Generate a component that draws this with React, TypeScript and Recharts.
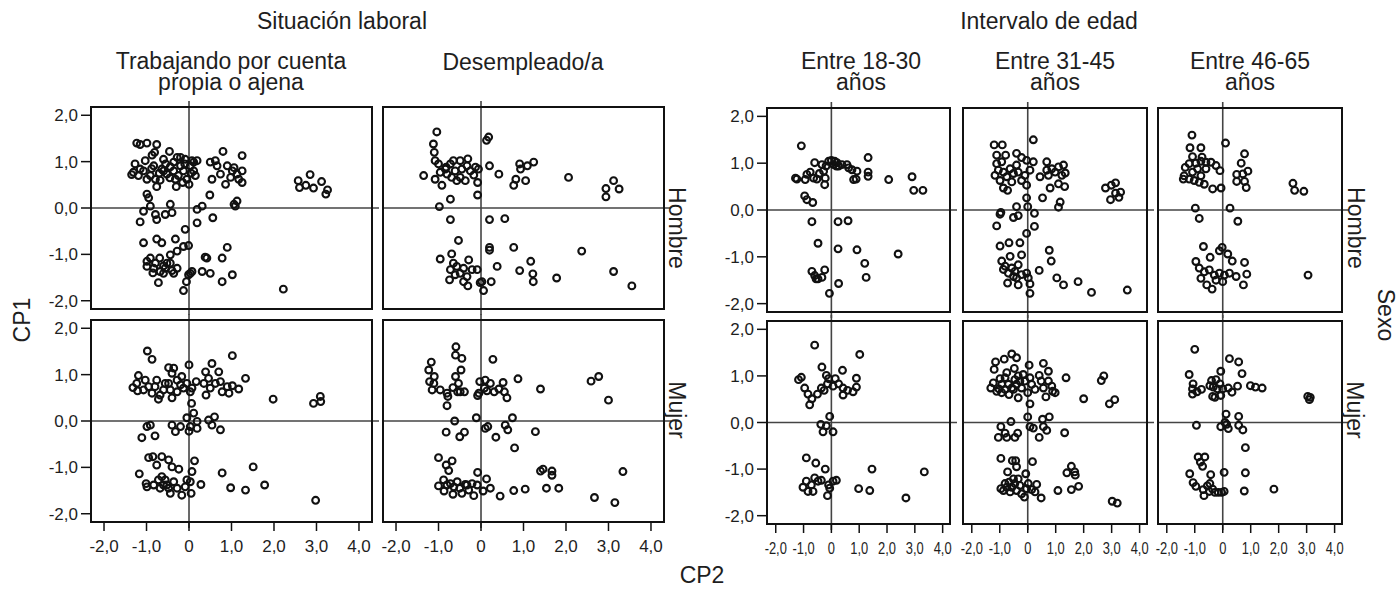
import React from "react";
import { ScatterChart, Scatter, XAxis, YAxis, ReferenceLine } from "recharts";

type Pt = [number, number];

// axis ticks and facet labels
const xTicks = [-2, -1, 0, 1, 2, 3, 4];
const yTicks = [-2, -1, 0, 1, 2];
const situacionLabels = ["Trabajando por cuenta\npropia o ajena", "Desempleado/a"];
const edadLabels = ["Entre 18-30\naños", "Entre 31-45\naños", "Entre 46-65\naños"];
const sexoLabels = ["Hombre", "Mujer"];

// CP2 (x), CP1 (y) scores
const trabajoHombre: Pt[] = [
  [-1.23, 1.4], [-1.15, 1.37], [-0.99, 1.4], [-0.76, 1.37], [-0.81, 1.2], [-0.87, 1.14], [-0.46, 1.22],
  [-1.35, 0.72], [-1.27, 0.95], [-1.15, 0.84], [-1.03, 1.02], [-1.07, 0.8], [-0.91, 0.7], [-0.79, 0.62],
  [-0.76, 0.46], [-0.68, 0.6], [-0.83, 0.91], [-0.64, 0.84], [-0.52, 0.73], [-0.44, 0.89], [-0.36, 0.99],
  [-0.28, 1.09], [-0.2, 0.91], [-0.32, 0.62], [-0.3, 0.46], [-0.13, 0.8], [-0.05, 0.62], [0.0, 0.51],
  [0.11, 0.99], [0.19, 1.02], [-0.09, 1.05], [0.03, 0.91], [0.11, 0.8], [-1.31, 0.77], [-1.19, 0.7],
  [-0.99, 0.62], [-0.6, 1.05], [-0.36, 0.8], [-0.2, 1.09], [0.07, 1.02], [-0.55, 0.95], [-0.7, 0.75],
  [-0.25, 0.7], [-0.1, 0.95], [0.15, 0.7], [-0.45, 0.65], [-0.6, 0.8], [0.05, 0.75], [-0.15, 0.55],
  [-0.88, 0.85], [0.5, 0.99], [0.62, 1.02], [0.66, 0.91], [0.8, 1.22], [0.54, 0.62], [0.86, 0.51],
  [0.74, 0.73], [0.9, 0.91], [1.02, 0.8], [1.13, 0.73], [1.25, 1.13], [1.25, 0.8], [1.25, 0.55],
  [1.17, 0.62], [0.98, 0.66], [1.06, 0.87], [2.57, 0.59], [2.6, 0.44], [2.75, 0.49], [2.85, 0.72],
  [2.93, 0.43], [3.12, 0.57], [3.22, 0.3], [3.26, 0.39], [-0.99, 0.3], [-0.95, 0.22], [-1.15, -0.3],
  [-1.07, -0.07], [-0.91, 0.04], [-0.79, -0.14], [-0.76, -0.25], [-0.56, -0.14], [-0.44, 0.08],
  [-0.4, -0.1], [0.19, -0.03], [0.31, 0.04], [0.19, -0.32], [0.49, 0.28], [0.56, -0.21], [1.06, 0.08],
  [1.13, 0.15], [1.09, 0.04], [-1.07, -0.75], [-0.76, -0.67], [-0.64, -0.75], [-0.32, -0.67],
  [-0.09, -0.46], [-0.13, -0.83], [-0.01, -0.81], [-0.28, -0.93], [-0.44, -1.01], [-0.99, -1.26],
  [-0.91, -1.08], [-0.69, -1.08], [-0.79, -1.19], [-0.68, -1.37], [-0.56, -1.3], [-0.44, -1.19],
  [-0.36, -1.41], [-0.28, -1.3], [-0.72, -1.61], [-0.13, -1.78], [-0.06, -1.59], [0.03, -1.41],
  [0.07, -1.37], [-0.01, -1.44], [0.31, -1.37], [0.5, -1.41], [0.38, -1.06], [0.42, -1.08],
  [0.78, -1.08], [0.9, -0.85], [0.78, -1.59], [1.02, -1.44], [2.22, -1.75], [-0.99, -1.15],
  [-0.83, -1.3], [-0.6, -1.41], [-0.52, -1.19], [-0.6, -1.25], [-0.4, -1.35], [-0.85, -1.4],
];

const desempleoHombre: Pt[] = [
  [-1.04, 1.64], [-1.12, 1.38], [-1.1, 1.2], [-1.08, 1.02], [-1.35, 0.7], [-1.08, 0.62], [-0.92, 0.49],
  [-0.84, 0.84], [-0.72, 0.95], [-0.65, 1.02], [-0.49, 1.02], [-0.31, 1.06], [-0.57, 0.59], [-0.37, 0.59],
  [-0.25, 0.8], [-0.17, 0.71], [-0.06, 0.84], [-0.08, 0.55], [-0.08, 0.28], [0.2, 0.91], [0.42, 0.73],
  [0.18, 1.53], [0.13, 1.46], [-0.72, 0.19], [-0.98, 0.03], [-0.96, 0.77], [-0.8, 0.73], [-0.61, 0.8],
  [-0.45, 0.84], [-0.33, 0.91], [-0.13, 0.88], [-1.0, 0.95], [-0.69, 0.66], [-0.49, 0.66], [-0.82, 0.88],
  [0.82, 0.62], [0.77, 0.49], [0.91, 0.95], [0.93, 0.84], [1.05, 0.59], [1.09, 0.91], [1.24, 0.99],
  [2.06, 0.66], [2.94, 0.42], [2.94, 0.24], [3.12, 0.59], [3.25, 0.41], [-0.72, -0.25], [0.2, -0.25],
  [0.56, -0.23], [-0.53, -0.7], [0.2, -0.85], [0.2, -0.91], [0.77, -0.85], [2.37, -0.93], [-0.96, -1.1],
  [-0.69, -0.99], [-0.65, -1.19], [-0.72, -1.33], [-0.74, -1.55], [-0.57, -1.26], [-0.41, -1.3],
  [-0.29, -1.12], [-0.33, -1.48], [-0.31, -1.68], [-0.21, -1.33], [-0.09, -1.33], [-0.49, -1.41],
  [-0.41, -1.59], [0.02, -1.59], [0.06, -1.78], [0.24, -1.59], [0.38, -1.26], [0.91, -1.35],
  [1.17, -1.15], [1.22, -1.42], [1.23, -1.59], [1.78, -1.51], [3.12, -1.37], [3.55, -1.68],
  [-0.02, -1.61], [-0.61, -1.44],
];

const trabajoMujer: Pt[] = [
  [-0.98, 1.51], [-0.87, 1.33], [1.02, 1.41], [0.0, 1.21], [0.54, 1.24], [-0.48, 1.15], [-0.36, 1.14],
  [0.39, 1.06], [0.7, 1.06], [1.33, 0.92], [-1.19, 0.98], [-1.32, 0.72], [-1.23, 0.81], [-1.21, 0.65],
  [-1.03, 0.88], [-0.95, 0.74], [-0.87, 0.6], [-0.76, 0.88], [-0.72, 0.47], [-0.6, 0.67], [-0.48, 0.81],
  [-0.4, 0.5], [-0.28, 0.63], [-0.28, 0.88], [-0.17, 0.96], [-0.13, 0.71], [-0.05, 0.81], [0.07, 0.71],
  [0.17, 0.85], [0.35, 0.81], [0.4, 0.56], [0.5, 0.71], [0.62, 0.81], [0.74, 0.85], [0.78, 0.63],
  [0.9, 0.74], [1.02, 0.76], [0.94, 0.6], [1.17, 0.69], [1.98, 0.47], [2.93, 0.38], [3.09, 0.53],
  [3.1, 0.42], [-1.07, 0.67], [-0.8, 0.74], [-0.68, 0.56], [-0.56, 0.81], [-0.4, 1.03], [-0.2, 0.78],
  [0.03, 0.63], [0.46, 0.92], [-0.44, 0.67], [0.06, 0.38], [0.11, 0.17], [-0.05, 0.07], [0.19, -0.01],
  [0.03, -0.12], [0.19, -0.16], [-0.4, -0.09], [-0.32, -0.23], [-0.2, -0.12], [0.0, -0.22], [0.46, 0.02],
  [0.6, 0.09], [0.54, -0.09], [0.74, -0.19], [-0.99, -0.12], [-0.91, -0.09], [-1.11, -0.36],
  [-0.8, -0.32], [-0.95, -0.79], [-0.85, -0.77], [-0.64, -0.77], [-0.48, -0.84], [-0.4, -0.99],
  [-0.24, -1.04], [0.13, -0.86], [0.07, -1.09], [-1.17, -1.14], [-1.01, -1.35], [-0.99, -1.42],
  [-0.83, -1.38], [-0.72, -1.27], [-0.64, -1.2], [-0.52, -1.38], [-0.44, -1.56], [-0.36, -1.31],
  [-0.28, -1.45], [-0.17, -1.6], [-0.09, -1.42], [-0.05, -1.27], [0.05, -1.56], [0.28, -1.37],
  [0.78, -1.12], [0.98, -1.44], [1.33, -1.49], [1.51, -0.99], [1.78, -1.38], [2.98, -1.71],
  [-0.6, -1.38], [-0.68, -1.45], [-0.48, -1.45], [-0.56, -1.27], [-0.76, -0.95], [0.03, -1.31],
];

const desempleoMujer: Pt[] = [
  [-0.59, 1.6], [-0.6, 1.42], [-0.45, 1.35], [0.28, 1.33], [-1.17, 1.27], [-1.23, 1.1], [-1.1, 0.96],
  [-1.21, 0.85], [-1.11, 0.81], [-1.15, 0.67], [-0.96, 0.67], [-0.8, 0.6], [-0.78, 0.53], [-0.8, 0.33],
  [-0.6, 0.96], [-0.47, 1.1], [-0.53, 0.81], [-0.49, 0.63], [-0.39, 0.63], [-0.55, 0.63], [-0.66, 0.72],
  [-0.08, 0.55], [-0.03, 0.85], [0.1, 0.88], [0.22, 0.81], [0.08, 0.71], [0.31, 0.63], [0.42, 0.69],
  [0.52, 0.83], [0.55, 0.63], [0.61, 0.5], [0.87, 0.91], [1.4, 0.69], [2.59, 0.86], [2.77, 0.96],
  [3.0, 0.45], [-0.05, 0.6], [0.14, 0.65], [-0.62, 0.0], [-0.11, 0.07], [0.74, 0.07], [0.1, -0.16],
  [0.16, -0.12], [0.57, -0.09], [0.63, -0.19], [-0.82, -0.24], [-0.39, -0.24], [-0.5, -0.34],
  [0.35, -0.35], [1.28, -0.23], [0.79, -0.58], [-1.0, -0.79], [-0.68, -0.86], [-0.82, -0.95],
  [-0.76, -1.07], [-0.08, -1.11], [0.13, -1.25], [-0.88, -1.27], [-1.0, -1.4], [-0.87, -1.51],
  [-0.72, -1.35], [-0.66, -1.58], [-0.56, -1.31], [-0.5, -1.45], [-0.45, -1.56], [-0.37, -1.37],
  [-0.29, -1.49], [-0.21, -1.35], [-0.17, -1.61], [-0.09, -1.38], [0.05, -1.51], [0.22, -1.45],
  [0.45, -1.62], [0.77, -1.5], [1.04, -1.47], [1.4, -1.08], [1.46, -1.04], [1.67, -1.08], [1.67, -1.17],
  [1.54, -1.45], [1.83, -1.45], [2.67, -1.65], [3.15, -1.76], [3.34, -1.09], [-0.64, -1.42],
  [-0.8, -1.38], [-0.33, -1.38],
];

const edad1830Hombre: Pt[] = [
  [-1.08, 1.37], [-0.6, 1.01], [-1.29, 0.68], [-1.24, 0.66], [-0.94, 0.65], [-0.88, 0.76], [-0.76, 0.81],
  [-0.64, 0.68], [-0.52, 0.66], [-0.43, 0.78], [-0.28, 0.83], [-0.24, 0.54], [-0.22, 0.68], [-0.34, 0.97],
  [-0.19, 0.94], [-0.1, 1.04], [0.0, 1.06], [0.12, 1.04], [0.2, 1.01], [0.26, 0.94], [0.38, 0.97],
  [0.56, 0.97], [0.62, 0.9], [0.74, 0.86], [0.92, 0.83], [0.8, 0.65], [0.89, 0.66], [1.32, 1.12],
  [1.32, 0.81], [1.32, 0.72], [2.06, 0.65], [2.9, 0.71], [2.96, 0.42], [3.29, 0.42], [-0.96, 0.3],
  [-0.88, 0.22], [-0.67, 0.16], [0.08, 0.97], [0.18, 0.94], [-0.7, -0.25], [0.24, -0.25], [0.6, -0.23],
  [-0.48, -0.71], [0.24, -0.83], [0.92, -0.85], [2.4, -0.94], [1.2, -1.14], [1.25, -1.44], [-0.7, -1.31],
  [-0.6, -1.4], [-0.48, -1.47], [-0.34, -1.44], [-0.24, -1.28], [0.26, -1.57], [-0.07, -1.78],
  [-0.55, -1.47],
];

const edad3145Hombre: Pt[] = [
  [-1.2, 1.39], [-0.91, 1.39], [0.2, 1.5], [-1.11, 1.17], [-0.79, 1.17], [-0.4, 1.21], [-0.22, 1.12],
  [-0.04, 1.06], [0.2, 1.03], [0.68, 1.03], [1.28, 0.96], [-1.11, 0.99], [-0.93, 1.03], [-1.05, 0.85],
  [-1.17, 0.74], [-0.87, 0.81], [-0.75, 0.71], [-0.63, 0.88], [-0.51, 0.78], [-0.4, 0.96], [-0.34, 0.81],
  [-0.22, 0.63], [-0.1, 0.74], [-0.04, 0.53], [0.08, 0.85], [0.44, 0.71], [0.68, 0.85], [0.74, 0.74],
  [0.86, 0.88], [0.98, 0.81], [1.1, 0.92], [1.22, 0.74], [1.34, 0.79], [1.32, 0.5], [1.1, 0.56],
  [0.8, 0.47], [-0.87, 0.47], [-0.72, 0.42], [-0.99, 0.63], [-0.57, 0.6], [2.78, 0.47], [2.99, 0.53],
  [3.14, 0.58], [3.32, 0.38], [2.96, 0.22], [3.26, 0.27], [3.14, 0.36], [-0.04, 0.26], [0.53, 0.26],
  [1.16, 0.17], [1.1, 0.06], [-0.4, 0.07], [-0.96, -0.05], [-0.99, -0.09], [-0.51, -0.16], [-0.34, -0.12],
  [0.24, -0.07], [0.0, 0.07], [-1.11, -0.34], [0.24, -0.35], [-0.04, -0.5], [-0.99, -0.77], [-0.67, -0.7],
  [-0.28, -0.7], [0.77, -0.86], [-0.22, -0.96], [0.84, -1.09], [-0.63, -0.99], [-0.93, -1.09],
  [-0.81, -1.2], [-0.57, -1.24], [-0.46, -1.31], [-0.69, -1.35], [-0.34, -1.17], [-0.22, -1.38],
  [-0.04, -1.35], [0.02, -1.45], [0.08, -1.58], [0.08, -1.78], [-0.72, -1.56], [-0.34, -1.6],
  [0.41, -1.29], [1.04, -1.45], [1.28, -1.6], [1.8, -1.53], [2.28, -1.76], [3.56, -1.71],
  [-0.51, -1.42], [-0.87, -1.27], [-0.4, -1.45],
];

const edad4665Hombre: Pt[] = [
  [-1.1, 1.6], [-1.17, 1.33], [-0.78, 1.33], [0.1, 1.43], [-1.08, 1.14], [-0.74, 1.13], [0.78, 1.2],
  [0.66, 1.0], [-1.34, 0.91], [-1.2, 0.99], [-0.96, 1.0], [-0.78, 1.04], [-0.6, 1.02], [-0.42, 1.02],
  [-0.24, 0.95], [-0.1, 0.84], [-1.38, 0.73], [-1.41, 0.66], [-1.2, 0.66], [-1.08, 0.81], [-1.02, 0.63],
  [-0.84, 0.59], [-0.66, 0.55], [-0.36, 0.45], [-0.06, 0.47], [-0.9, 0.88], [-0.6, 0.88], [-0.78, 0.73],
  [0.5, 0.76], [0.72, 0.77], [0.9, 0.83], [0.5, 0.61], [0.78, 0.61], [0.84, 0.48], [2.51, 0.57],
  [2.57, 0.42], [2.9, 0.4], [-0.98, 0.04], [0.26, 0.04], [-0.84, -0.18], [0.54, -0.24], [-0.69, -0.78],
  [-0.02, -0.8], [-0.12, -0.87], [0.18, -0.94], [-0.45, -1.01], [0.34, -1.09], [0.78, -1.12],
  [-0.96, -1.1], [-0.84, -1.24], [-0.66, -1.32], [-0.48, -1.28], [-0.3, -1.39], [-0.12, -1.35],
  [0.06, -1.39], [0.24, -1.35], [0.48, -1.42], [0.86, -1.37], [0.74, -1.6], [-0.38, -1.69],
  [-0.57, -1.6], [-0.78, -1.46], [3.05, -1.39], [-0.24, -1.5], [0.0, -1.53],
];

const edad1830Mujer: Pt[] = [
  [-0.6, 1.66], [1.02, 1.46], [-0.34, 1.19], [0.4, 1.12], [-1.18, 0.92], [-1.08, 0.97], [-0.96, 0.74],
  [-0.84, 0.61], [-0.78, 0.38], [-0.7, 0.51], [-0.5, 0.61], [-0.36, 0.74], [-0.26, 0.69], [-0.18, 1.01],
  [-0.14, 0.83], [-0.1, 0.94], [0.06, 0.78], [0.14, 0.94], [0.26, 0.83], [0.42, 0.74], [0.42, 0.59],
  [0.58, 0.69], [0.78, 0.66], [0.9, 0.76], [0.9, 0.95], [-0.06, 0.13], [-0.38, -0.04], [-0.18, -0.07],
  [-0.3, -0.2], [0.06, -0.2], [-0.9, -0.76], [-0.56, -0.87], [-0.22, -1.0], [1.46, -1.0], [3.34, -1.06],
  [-0.6, -1.19], [-0.9, -1.26], [-1.02, -1.39], [-0.84, -1.48], [-0.66, -1.48], [-0.72, -1.34],
  [-0.36, -1.24], [-0.1, -1.34], [-0.06, -1.41], [0.18, -1.24], [-0.14, -1.57], [0.98, -1.42],
  [1.38, -1.46], [2.68, -1.62], [-0.48, -1.26], [0.06, -1.26],
];

const edad3145Mujer: Pt[] = [
  [-0.57, 1.47], [-0.84, 1.36], [-1.15, 1.3], [-0.4, 1.39], [0.05, 1.23], [0.56, 1.27], [-1.2, 1.14],
  [-0.99, 0.94], [-0.81, 0.96], [-0.48, 1.16], [-0.34, 1.0], [-0.16, 1.03], [0.08, 0.96], [0.41, 1.01],
  [0.74, 1.1], [1.37, 0.96], [2.72, 1.0], [2.63, 0.9], [-1.32, 0.74], [-1.23, 0.85], [-1.11, 0.67],
  [-0.93, 0.82], [-0.81, 0.71], [-0.69, 0.82], [-0.67, 0.6], [-0.51, 0.71], [-0.4, 0.82], [-0.34, 0.53],
  [-0.22, 0.74], [-0.1, 0.89], [0.0, 0.64], [0.14, 0.82], [0.26, 0.71], [0.48, 0.89], [0.56, 0.74],
  [0.74, 0.89], [0.86, 0.78], [0.89, 0.67], [0.98, 0.64], [0.65, 0.55], [0.08, 0.4], [2.0, 0.51],
  [2.92, 0.4], [3.11, 0.49], [-0.57, 0.74], [-0.93, 0.64], [-0.28, 0.89], [-0.46, 0.92], [-0.75, 1.07],
  [-1.03, 0.72], [0.0, 0.12], [0.53, 0.07], [0.77, 0.12], [-0.6, 0.02], [-0.96, -0.09], [0.08, -0.09],
  [0.2, -0.12], [0.56, -0.09], [0.68, -0.17], [-0.81, -0.23], [-1.05, -0.32], [-0.75, -0.32],
  [-0.46, -0.32], [-0.36, -0.23], [0.41, -0.32], [1.32, -0.22], [-0.96, -0.77], [-0.55, -0.82],
  [-0.43, -0.82], [0.17, -0.84], [-0.4, -0.95], [-0.72, -1.06], [-0.07, -1.1], [1.56, -0.94],
  [1.4, -1.08], [1.68, -1.06], [1.7, -1.13], [-0.96, -1.42], [-0.81, -1.31], [-0.67, -1.28],
  [-0.57, -1.39], [-0.46, -1.31], [-0.4, -1.46], [-0.28, -1.35], [-0.22, -1.53], [-0.12, -1.6],
  [0.02, -1.31], [0.14, -1.44], [0.26, -1.49], [0.32, -1.33], [0.48, -1.62], [1.08, -1.46],
  [1.56, -1.44], [1.82, -1.37], [3.02, -1.69], [3.2, -1.73], [-0.75, -1.39], [-0.63, -1.49],
  [-0.34, -1.21], [-0.51, -1.21], [-0.87, -1.46], [-0.04, -1.42],
];

const edad4665Mujer: Pt[] = [
  [-1.0, 1.57], [0.24, 1.37], [0.57, 1.3], [-0.07, 1.1], [0.69, 1.05], [-1.2, 1.03], [-1.06, 0.83],
  [-1.08, 0.72], [-1.08, 0.61], [-0.92, 0.66], [-0.76, 0.71], [-0.4, 0.9], [-0.34, 0.76], [-0.36, 0.56],
  [-0.24, 0.92], [-0.19, 0.72], [-0.1, 0.83], [-0.07, 0.58], [0.0, 0.72], [0.2, 0.74], [0.33, 0.65],
  [0.53, 0.78], [0.99, 0.79], [1.17, 0.76], [1.41, 0.74], [3.04, 0.56], [3.1, 0.49], [3.13, 0.54],
  [-0.46, 0.79], [-0.28, 0.54], [0.12, 0.18], [0.57, 0.13], [-0.94, -0.06], [-0.07, -0.09], [0.14, -0.04],
  [0.2, -0.13], [0.57, -0.06], [0.72, -0.16], [0.08, 0.0], [0.81, -0.54], [-0.88, -0.74], [-0.64, -0.74],
  [-0.8, -0.85], [-0.72, -0.94], [0.05, -1.07], [0.81, -1.08], [-1.18, -1.1], [-0.43, -1.12],
  [-1.06, -1.29], [-0.96, -1.37], [-0.7, -1.44], [-0.67, -1.57], [-0.55, -1.36], [-0.48, -1.48],
  [-0.36, -1.43], [-0.16, -1.5], [-0.04, -1.5], [0.05, -1.48], [0.77, -1.47], [1.83, -1.43],
  [-0.46, -1.31], [-0.28, -1.5],
];

const FONT = '"Liberation Sans", Arial, sans-serif';
const INK = "#1e1e1e";
const Y_DOMAIN: [number, number] = [-2.2, 2.2];

const fmtX = (v: number) => (v === 0 ? "0" : v.toFixed(1).replace(".", ","));
const fmtY = (v: number) => v.toFixed(1).replace(".", ",");

const Ring = (p: any) => (
  <circle cx={p.cx} cy={p.cy} r={3.4} fill="none" stroke="#111" strokeWidth={2.1} />
);

function XTick(p: any) {
  return (
    <text
      transform={`translate(${p.x},${p.y + 13}) scale(${p.sx},1)`}
      textAnchor="middle"
      dominantBaseline="central"
      fontSize={17}
      fontFamily={FONT}
      fill={INK}
    >
      {fmtX(p.payload.value)}
    </text>
  );
}

type PanelProps = {
  left: number;
  top: number;
  w: number;
  h: number;
  xDomain: [number, number];
  data: Pt[];
  showX?: boolean;
  showY?: boolean;
  squeeze?: number;
};

function Panel({ left, top, w, h, xDomain, data, showX, showY, squeeze = 1 }: PanelProps) {
  const yW = showY ? 60 : 0;
  const xH = showX ? 40 : 0;
  const pxX = w / (xDomain[1] - xDomain[0]);
  const pxY = h / (Y_DOMAIN[1] - Y_DOMAIN[0]);
  const ex = 6 / pxX;
  const ey = 5 / pxY;
  const pts = data.map(([x, y]) => ({ x, y }));
  return (
    <div style={{ position: "absolute", left: left - yW, top, width: w + yW, height: h + xH }}>
      <ScatterChart width={w + yW} height={h + xH} margin={{ top: 0, right: 0, bottom: 0, left: 0 }}>
        <XAxis
          type="number"
          dataKey="x"
          domain={xDomain}
          ticks={xTicks}
          interval={0}
          allowDataOverflow
          hide={!showX}
          height={xH || 30}
          axisLine={false}
          tickSize={8}
          tickLine={{ stroke: "#111", strokeWidth: 1.5 }}
          tick={(tp: any) => <XTick {...tp} sx={squeeze} />}
        />
        <YAxis
          type="number"
          dataKey="y"
          domain={Y_DOMAIN}
          ticks={yTicks}
          interval={0}
          allowDataOverflow
          hide={!showY}
          width={yW || 60}
          axisLine={false}
          tickSize={9}
          tickMargin={3}
          tickLine={{ stroke: "#111", strokeWidth: 1.5 }}
          tickFormatter={fmtY}
          tick={{ fontSize: 17, fill: INK, fontFamily: FONT }}
        />
        <ReferenceLine
          segment={[{ x: 0, y: Y_DOMAIN[0] - ey }, { x: 0, y: Y_DOMAIN[1] + ey }]}
          stroke="#444"
          strokeWidth={1.6}
          ifOverflow="visible"
        />
        <ReferenceLine
          segment={[{ x: xDomain[0], y: 0 }, { x: xDomain[1] + ex, y: 0 }]}
          stroke="#444"
          strokeWidth={1.6}
          ifOverflow="visible"
        />
        <Scatter data={pts} shape={Ring} isAnimationActive={false} />
      </ScatterChart>
      <div
        style={{
          position: "absolute",
          left: yW,
          top: 0,
          width: w,
          height: h,
          border: "2px solid #111",
          boxSizing: "border-box",
          pointerEvents: "none",
        }}
      />
    </div>
  );
}

const label = (
  text: string,
  cx: number,
  cy: number,
  rotate = 0,
  size = 23
): React.ReactNode => (
  <div
    key={text + cx + cy}
    style={{
      position: "absolute",
      left: cx - 150,
      top: cy - 30,
      width: 300,
      height: 60,
      display: "flex",
      alignItems: "center",
      justifyContent: "center",
      textAlign: "center",
      whiteSpace: "pre",
      fontFamily: FONT,
      fontSize: size,
      lineHeight: "21px",
      color: INK,
      transform: rotate ? `rotate(${rotate}deg)` : undefined,
    }}
  >
    {text}
  </div>
);

const LX: [number, number] = [-2.33, 4.33];
const RX: [number, number] = [-2.35, 4.3];

export default function App() {
  return (
    <div style={{ position: "absolute", left: 0, top: 0, width: 1398, height: 590, background: "#fff" }}>
      <style>{".recharts-surface{overflow:visible}"}</style>

      {label("Situación laboral", 342, 21)}
      {label(situacionLabels[0], 231, 72)}
      {label(situacionLabels[1], 523, 62)}
      {label("Intervalo de edad", 1049, 21)}
      {label(edadLabels[0], 861, 72)}
      {label(edadLabels[1], 1055, 72)}
      {label(edadLabels[2], 1250, 72)}

      <Panel left={90} top={106} w={283} h={204} xDomain={LX} data={trabajoHombre} showY />
      <Panel left={382} top={106} w={283} h={204} xDomain={LX} data={desempleoHombre} />
      <Panel left={90} top={319} w={283} h={204} xDomain={LX} data={trabajoMujer} showY showX />
      <Panel left={382} top={319} w={283} h={204} xDomain={LX} data={desempleoMujer} showX />

      <Panel left={766} top={107} w={185} h={206} xDomain={RX} data={edad1830Hombre} showY />
      <Panel left={962} top={107} w={186} h={206} xDomain={RX} data={edad3145Hombre} />
      <Panel left={1157} top={107} w={186} h={206} xDomain={RX} data={edad4665Hombre} />
      <Panel left={766} top={320} w={185} h={205} xDomain={RX} data={edad1830Mujer} showY showX squeeze={0.76} />
      <Panel left={962} top={320} w={186} h={205} xDomain={RX} data={edad3145Mujer} showX squeeze={0.76} />
      <Panel left={1157} top={320} w={186} h={205} xDomain={RX} data={edad4665Mujer} showX squeeze={0.76} />

      {label(sexoLabels[0], 677, 228, 90)}
      {label(sexoLabels[1], 677, 410, 90)}
      {label(sexoLabels[0], 1356, 228, 90)}
      {label(sexoLabels[1], 1355, 410, 90)}
      {label("Sexo", 1386, 315, 90)}
      {label("CP1", 22, 320, -90)}
      {label("CP2", 702, 575)}
    </div>
  );
}
